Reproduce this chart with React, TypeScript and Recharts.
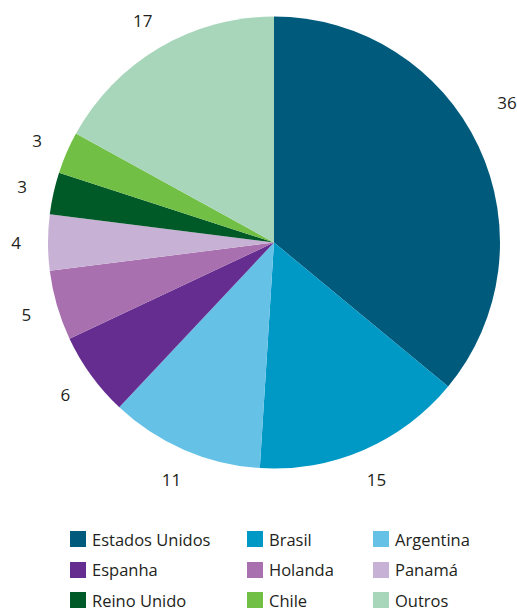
import { PieChart, Pie, Cell, Legend } from "recharts"

const countries = [
  "Estados Unidos",
  "Brasil",
  "Argentina",
  "Espanha",
  "Holanda",
  "Panamá",
  "Reino Unido",
  "Chile",
  "Outros",
]
const shares = [36, 15, 11, 6, 5, 4, 3, 3, 17]
const colors = [
  "#005a7c",
  "#0098c5",
  "#66c1e6",
  "#652d90",
  "#a870ae",
  "#c7b1d5",
  "#005a27",
  "#72bf45",
  "#a8d6bb",
]
// legend is laid out three per row, like the original
const legendRows = [
  ["Estados Unidos", "Brasil", "Argentina"],
  ["Espanha", "Holanda", "Panamá"],
  ["Reino Unido", "Chile", "Outros"],
]

const data = countries.map((name, i) => ({ name, value: shares[i] }))

const W = 517
const H = 609
const FONT = "'Open Sans', 'Noto Sans', sans-serif"
const RAD = Math.PI / 180

const renderLabel = (props: any) => {
  const { cx, cy, midAngle, outerRadius, value } = props
  const r = outerRadius + 32
  let x = cx + r * Math.cos(-midAngle * RAD)
  let y = cy + r * Math.sin(-midAngle * RAD)
  // keep labels inside the chart: slide along a wider circle if clipped
  const maxX = W - 10
  if (x > maxX) {
    const r2 = outerRadius + 46
    const dx = maxX - cx
    x = maxX
    y = cy - Math.sqrt(Math.max(r2 * r2 - dx * dx, 0))
  }
  return (
    <text
      x={x}
      y={y}
      fill="#231f20"
      fontSize={17}
      fontFamily={FONT}
      textAnchor="middle"
      dominantBaseline="central"
    >
      {value}
    </text>
  )
}

const colX = [70, 247, 373]

const renderLegend = () => (
  <div style={{ position: "relative", width: W, height: 80, fontFamily: FONT }}>
    {legendRows.map((row, ri) =>
      row.map((name, ci) => {
        const idx = countries.indexOf(name)
        return (
          <div
            key={name}
            style={{
              position: "absolute",
              left: colX[ci],
              top: ri * 30.5,
              display: "flex",
              alignItems: "center",
              height: 20,
            }}
          >
            <span
              style={{
                display: "inline-block",
                width: 16,
                height: 16,
                background: colors[idx],
                marginRight: 6,
              }}
            />
            <span style={{ fontSize: 16.5, color: "#231f20" }}>{name}</span>
          </div>
        )
      })
    )}
  </div>
)

export default function App() {
  return (
    <>
      <style>{"body{margin:0}"}</style>
      <PieChart width={W} height={H}>
        <Pie
          data={data}
          dataKey="value"
          nameKey="name"
          cx={269}
          cy={237.5}
          outerRadius={226}
          startAngle={90}
          endAngle={-270}
          stroke="none"
          label={renderLabel}
          labelLine={false}
          isAnimationActive={false}
        >
          {data.map((d, i) => (
            <Cell key={d.name} fill={colors[i]} />
          ))}
        </Pie>
        <Legend
          content={renderLegend}
          wrapperStyle={{ position: "absolute", left: 0, top: 529, width: W }}
        />
      </PieChart>
    </>
  )
}
